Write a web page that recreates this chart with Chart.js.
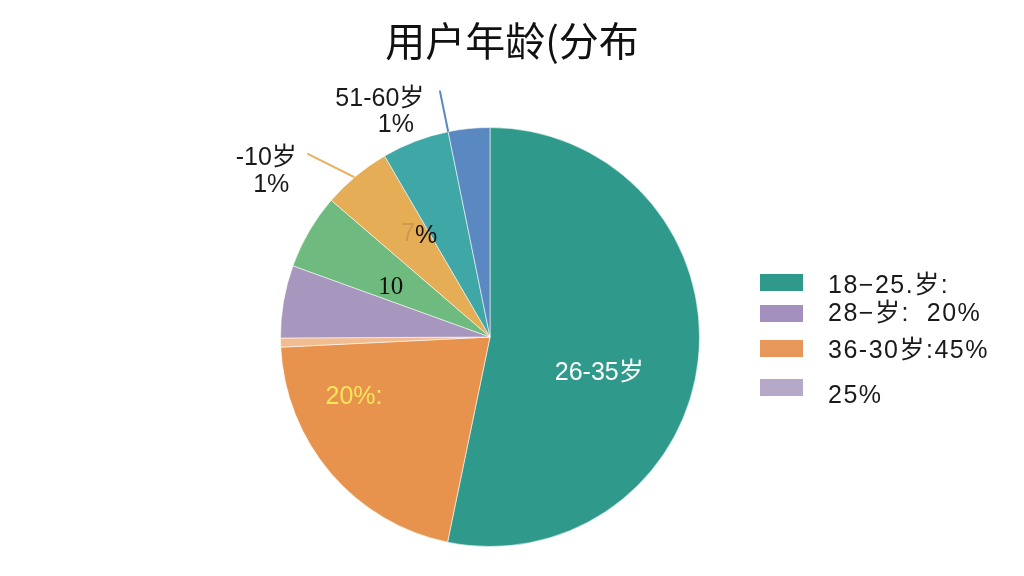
<!DOCTYPE html>
<html>
<head>
<meta charset="utf-8">
<script src="https://cdn.jsdelivr.net/npm/chart.js@4"></script>
<style>
  html,body{margin:0;padding:0;background:#fff;}
  #wrap{position:relative;width:1024px;height:576px;overflow:hidden;}
  #c{position:absolute;left:0;top:0;}
  #title{position:absolute;left:0;width:1024px;top:13px;text-align:center;font-family:"Noto Sans CJK SC","Noto Sans",sans-serif;font-size:40px;line-height:52px;color:#111;}
  .lg{position:absolute;left:760px;font-family:"Liberation Sans","Noto Sans CJK SC",sans-serif;font-size:25px;letter-spacing:1.5px;color:#1a1a1a;white-space:pre;}
  .lg .box{position:absolute;left:0;width:43px;height:17px;}
  .lg .txt{position:absolute;left:68px;line-height:25px;}
</style>
</head>
<body>
<div id="wrap">
  <canvas id="c" width="1024" height="576"></canvas>
  <div id="title">用户年龄(分布</div>
  <div id="legend"></div>
</div>
<script>
// ---- data ----
const sliceNames = ['26-35岁','36-45岁','46-50岁','18-25岁','19-25岁','-10岁','51-60岁a','51-60岁'];
const sliceValues = [53.3, 21.0, 0.7, 5.6, 5.8, 5.3, 5.2, 3.2];
const sliceColors = ['#2f9a8b','#e8934d','#f2bc92','#a797bf','#6fba7e','#e6ad57','#3fa8a6','#5a89c1'];

const legendLabels = ['18−25.岁:', '28−岁:  20%', '36-30岁:45%', '25%'];
const legendColors = ['#2f9a8b','#a48fbf','#e8975a','#b6a8c9'];
const legendTops = [274, 305, 340, 379];
const legendTextTops = [272, 300, 337, 382];

// in-slice labels: slice index, fraction along arc, radius fraction
const innerLabels = [
  {text:'26-35岁', slice:0, t:0.566, rf:0.55, color:'#ffffff', serif:false},
  {text:'20%:',    slice:1, t:0.72,  rf:0.71, color:'#f5e55a', serif:false},
  {text:'10',      slice:4, t:0.32,  rf:0.53, color:'#111111', serif:true},
  {text:'%',       slice:5, t:0.89,  rf:0.57, color:'#111111', serif:false}
];
// outside labels with leader lines
const outerLabels = [
  {lines:['51-60岁','1%'], slice:7, t0:0.0, t1:0.0, r0:1.0, r1:1.2, color:'#5a89c1', dx:[-60,-44], dy:[8,34]},
  {lines:['-10岁','1%'],   slice:5, t0:0.47, t1:0.23, r0:1.0, r1:1.236, color:'#eab264', dx:[-41,-36], dy:[5,32]}
];

// legend (HTML)
const lg = document.getElementById('legend');
legendLabels.forEach((l,i)=>{
  const b = document.createElement('div');
  b.className='lg'; b.style.top = legendTops[i]+'px';
  b.innerHTML = '<div class="box" style="background:'+legendColors[i]+'"></div>';
  lg.appendChild(b);
  const d = document.createElement('div');
  d.className='lg'; d.style.top = legendTextTops[i]+'px';
  d.innerHTML = '<div class="txt">'+l+'</div>';
  lg.appendChild(d);
});

const labelPlugin = {
  id:'labelPlugin',
  afterDatasetsDraw(chart){
    const ctx = chart.ctx;
    const meta = chart.getDatasetMeta(0);
    const sans = '25px "Liberation Sans","Noto Sans CJK SC",sans-serif';
    const serif = '25px "Liberation Serif","DejaVu Serif",serif';
    function pos(slice,t,rf){
      const a = meta.data[slice];
      const p = a.getProps(['x','y','startAngle','endAngle','outerRadius'],true);
      const ang = p.startAngle + (p.endAngle-p.startAngle)*t;
      return {x:p.x+Math.cos(ang)*p.outerRadius*rf, y:p.y+Math.sin(ang)*p.outerRadius*rf};
    }
    ctx.save();
    ctx.textAlign='center'; ctx.textBaseline='middle';
    innerLabels.forEach(l=>{
      const q = pos(l.slice,l.t,l.rf);
      ctx.font = l.serif ? serif : sans;
      if(l.text==='%'){
        ctx.fillStyle='rgba(150,110,50,0.3)';
        ctx.fillText('7', q.x-18, q.y-2);
      }
      ctx.fillStyle=l.color;
      ctx.fillText(l.text,q.x,q.y);
    });
    ctx.font = sans;
    outerLabels.forEach(l=>{
      const a = pos(l.slice,l.t0,l.r0), b = pos(l.slice,l.t1,l.r1);
      ctx.strokeStyle=l.color; ctx.lineWidth=2;
      ctx.beginPath(); ctx.moveTo(a.x,a.y); ctx.lineTo(b.x,b.y); ctx.stroke();
      ctx.fillStyle='#1a1a1a';
      l.lines.forEach((s,i)=>ctx.fillText(s,b.x+l.dx[i],b.y+l.dy[i]));
    });
    ctx.restore();
  }
};

new Chart(document.getElementById('c'),{
  type:'pie',
  data:{labels:sliceNames,datasets:[{data:sliceValues,backgroundColor:sliceColors,borderColor:'rgba(255,255,255,0.55)',borderWidth:1}]},
  options:{
    responsive:false,animation:false,
    layout:{padding:{left:280,right:324,top:127,bottom:29}},
    plugins:{legend:{display:false},title:{display:false},tooltip:{enabled:false}}
  },
  plugins:[labelPlugin]
});
</script>
</body>
</html>
